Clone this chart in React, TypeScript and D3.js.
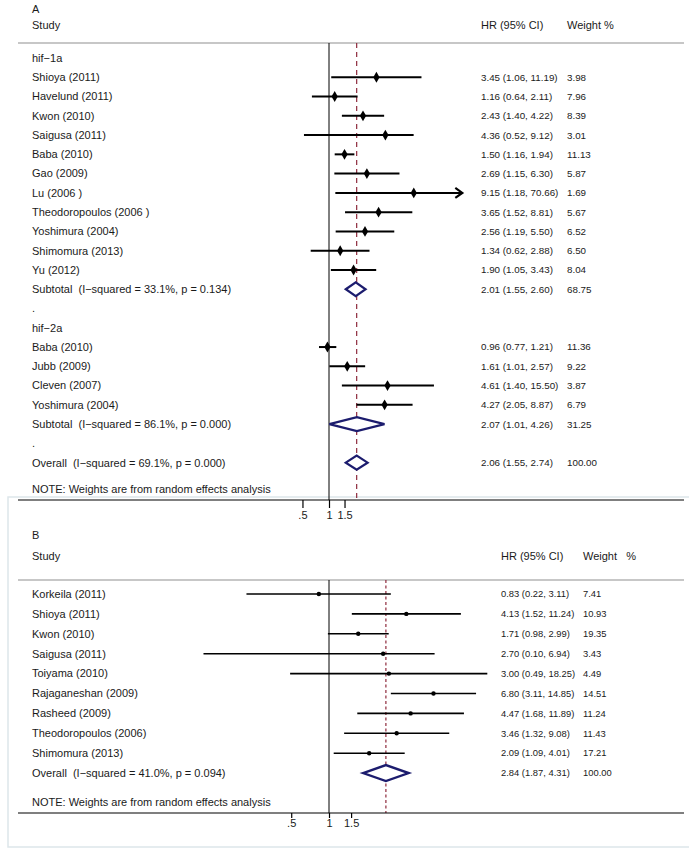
import React, { useEffect, useRef } from "react";
import * as d3 from "d3";

// ---- panel A data (hif-1a / hif-2a) ----
const hif1aStudies = ["Shioya (2011)", "Havelund (2011)", "Kwon (2010)", "Saigusa (2011)", "Baba (2010)", "Gao (2009)", "Lu (2006 )", "Theodoropoulos (2006 )", "Yoshimura (2004)", "Shimomura (2013)", "Yu (2012)"];
const hif1aHR = [3.45, 1.16, 2.43, 4.36, 1.5, 2.69, 9.15, 3.65, 2.56, 1.34, 1.9];
const hif1aLo = [1.06, 0.64, 1.4, 0.52, 1.16, 1.15, 1.18, 1.52, 1.19, 0.62, 1.05];
const hif1aHi = [11.19, 2.11, 4.22, 9.12, 1.94, 6.3, 70.66, 8.81, 5.5, 2.88, 3.43];
const hif1aWeight = [3.98, 7.96, 8.39, 3.01, 11.13, 5.87, 1.69, 5.67, 6.52, 6.5, 8.04];

const hif2aStudies = ["Baba (2010)", "Jubb (2009)", "Cleven (2007)", "Yoshimura (2004)"];
const hif2aHR = [0.96, 1.61, 4.61, 4.27];
const hif2aLo = [0.77, 1.01, 1.4, 2.05];
const hif2aHi = [1.21, 2.57, 15.5, 8.87];
const hif2aWeight = [11.36, 9.22, 3.87, 6.79];

const pooledLabelsA = ["Subtotal  (I\u2212squared = 33.1%, p = 0.134)", "Subtotal  (I\u2212squared = 86.1%, p = 0.000)", "Overall  (I\u2212squared = 69.1%, p = 0.000)"];
const pooledHRA = [2.01, 2.07, 2.06];
const pooledLoA = [1.55, 1.01, 1.55];
const pooledHiA = [2.6, 4.26, 2.74];
const pooledWeightA = [68.75, 31.25, 100.0];

// ---- panel B data ----
const studiesB = ["Korkeila (2011)", "Shioya (2011)", "Kwon (2010)", "Saigusa (2011)", "Toiyama (2010)", "Rajaganeshan (2009)", "Rasheed (2009)", "Theodoropoulos (2006)", "Shimomura (2013)"];
const hrB = [0.83, 4.13, 1.71, 2.7, 3.0, 6.8, 4.47, 3.46, 2.09];
const loB = [0.22, 1.52, 0.98, 0.1, 0.49, 3.11, 1.68, 1.32, 1.09];
const hiB = [3.11, 11.24, 2.99, 6.94, 18.25, 14.85, 11.89, 9.08, 4.01];
const weightB = [7.41, 10.93, 19.35, 3.43, 4.49, 14.51, 11.24, 11.43, 17.21];
const overallB = { label: "Overall  (I\u2212squared = 41.0%, p = 0.094)", hr: 2.84, lo: 1.87, hi: 4.31, w: 100.0 };

const tickValues = [0.5, 1, 1.5];
const tickLabels = [".5", "1", "1.5"];
const noteText = "NOTE: Weights are from random effects analysis";

const FONT = "'Liberation Sans', Arial, sans-serif";
const f2 = d3.format(".2f");

type Row =
  | { kind: "text"; label: string }
  | { kind: "study"; label: string; hr: number; lo: number; hi: number; w: number }
  | { kind: "pooled"; label: string; hr: number; lo: number; hi: number; w: number };

const rowsA: Row[] = [
  { kind: "text", label: "hif\u22121a" },
  ...hif1aStudies.map((s, i) => ({ kind: "study" as const, label: s, hr: hif1aHR[i], lo: hif1aLo[i], hi: hif1aHi[i], w: hif1aWeight[i] })),
  { kind: "pooled", label: pooledLabelsA[0], hr: pooledHRA[0], lo: pooledLoA[0], hi: pooledHiA[0], w: pooledWeightA[0] },
  { kind: "text", label: "." },
  { kind: "text", label: "hif\u22122a" },
  ...hif2aStudies.map((s, i) => ({ kind: "study" as const, label: s, hr: hif2aHR[i], lo: hif2aLo[i], hi: hif2aHi[i], w: hif2aWeight[i] })),
  { kind: "pooled", label: pooledLabelsA[1], hr: pooledHRA[1], lo: pooledLoA[1], hi: pooledHiA[1], w: pooledWeightA[1] },
  { kind: "text", label: "." },
  { kind: "pooled", label: pooledLabelsA[2], hr: pooledHRA[2], lo: pooledLoA[2], hi: pooledHiA[2], w: pooledWeightA[2] },
];

const rowsB: Row[] = [
  ...studiesB.map((s, i) => ({ kind: "study" as const, label: s, hr: hrB[i], lo: loB[i], hi: hiB[i], w: weightB[i] })),
  { kind: "pooled", ...overallB },
];

interface PanelCfg {
  letter: string;
  letterY: number;
  headY: number;
  ruleY: number;
  rowTop: number;
  step: number;
  noteY: number;
  axisY: number;
  x: d3.ScaleLogarithmic<number, number>;
  hrX: number;
  wX: number;
  weightHead: string;
  numSize: number;
  lineW: number;
  heavy: boolean;
  diamondH: number;
  pooledLine: number;
  tickSize: number;
  tickPad: number;
}

function drawPanel(svg: d3.Selection<SVGSVGElement, unknown, null, undefined>, rows: Row[], c: PanelCfg) {
  const g = svg.append("g");
  const txt = (x: number, y: number, s: string, size = 11) =>
    g.append("text").attr("x", x).attr("y", y).attr("dy", "0.35em").text(s)
      .style("white-space", "pre").attr("font-family", FONT).attr("font-size", size).attr("fill", "#1a1a1a");

  txt(32, c.letterY, c.letter);
  txt(32, c.headY, "Study");
  txt(c.hrX, c.headY, "HR (95% CI)");
  txt(c.wX, c.headY, c.weightHead);

  g.append("line").attr("x1", 18).attr("x2", 684).attr("y1", c.ruleY).attr("y2", c.ruleY)
    .attr("stroke", "#b4b4b4").attr("stroke-width", 1.5);

  const y = (i: number) => c.rowTop + c.step * i;
  const [xMin, xMax] = c.x.domain();
  const overall = rows[rows.length - 1];
  const overallHR = overall.kind === "text" ? 1 : overall.hr;

  // null line and overall effect line
  g.append("line").attr("x1", c.x(1)).attr("x2", c.x(1)).attr("y1", c.ruleY).attr("y2", c.axisY)
    .attr("stroke", "#000").attr("stroke-width", 1);
  g.append("line").attr("x1", c.x(overallHR)).attr("x2", c.x(overallHR))
    .attr("y1", c.ruleY).attr("y2", c.axisY)
    .attr("stroke", "#8e2a3c").attr("stroke-width", 1.2).attr("stroke-dasharray", c.heavy ? "5,4" : "3,2.5");

  rows.forEach((r, i) => {
    const yy = y(i);
    txt(32, yy, r.label);
    if (r.kind === "text") return;
    txt(c.hrX, yy, `${f2(r.hr)} (${f2(r.lo)}, ${f2(r.hi)})`, c.numSize);
    txt(c.wX, yy, f2(r.w), c.numSize);
    if (r.kind === "study") {
      const clipped = r.hi > xMax;
      const x1 = c.x(Math.max(r.lo, xMin));
      const x2 = c.x(Math.min(r.hi, xMax));
      g.append("line").attr("x1", x1).attr("x2", x2).attr("y1", yy).attr("y2", yy)
        .attr("stroke", "#000").attr("stroke-width", c.lineW);
      if (clipped) {
        g.append("path").attr("d", `M${x2 - 7},${yy - 5}L${x2},${yy}L${x2 - 7},${yy + 5}`)
          .attr("fill", "none").attr("stroke", "#000").attr("stroke-width", 2.2);
      }
      if (c.heavy) {
        g.append("path").attr("d", d3.symbol().type(d3.symbolDiamond).size(34)()!)
          .attr("transform", `translate(${c.x(r.hr)},${yy})`).attr("fill", "#000");
      } else {
        g.append("circle").attr("cx", c.x(r.hr)).attr("cy", yy).attr("r", 2.2).attr("fill", "#000");
      }
    } else {
      const h = c.diamondH;
      const d = `M${c.x(r.lo)},${yy}L${c.x(r.hr)},${yy - h}L${c.x(r.hi)},${yy}L${c.x(r.hr)},${yy + h}Z`;
      g.append("path").attr("d", d).attr("fill", "#fff").attr("stroke", "#1c1c6e")
        .attr("stroke-width", c.pooledLine).attr("stroke-linejoin", "miter");
    }
  });

  txt(32, c.noteY, noteText);

  // bottom axis
  g.append("line").attr("x1", 18).attr("x2", 684).attr("y1", c.axisY).attr("y2", c.axisY)
    .attr("stroke", "#000").attr("stroke-width", 1.2);
  const axis = d3.axisBottom(c.x).tickValues(tickValues).tickSize(c.tickSize).tickPadding(c.tickPad)
    .tickFormat((_d, i) => tickLabels[i]);
  const ag = g.append("g").attr("transform", `translate(0,${c.axisY})`).call(axis);
  ag.select(".domain").remove();
  ag.selectAll("line").attr("stroke-width", 1.2);
  ag.selectAll("text").attr("font-family", FONT).attr("font-size", 11).attr("fill", "#1a1a1a");
}

const App = () => {
  const ref = useRef<SVGSVGElement>(null);
  useEffect(() => {
    const svg = d3.select(ref.current!);
    svg.selectAll("*").remove();
    svg.append("rect").attr("width", 689).attr("height", 853).attr("fill", "#fff");

    // faint frame round panel B
    svg.append("rect").attr("x", 8).attr("y", 497).attr("width", 690).attr("height", 350)
      .attr("fill", "none").attr("stroke", "#dde6ea").attr("stroke-width", 1.5);

    // A: 38.3 px per log unit, centred on HR = 1
    const xA = d3.scaleLog().domain([1 / 32.5, 32.5]).range([329 - 133.3, 329 + 133.3]);
    drawPanel(svg, rowsA, {
      letter: "A", letterY: 9, headY: 25, ruleY: 43, rowTop: 58, step: 19.27,
      noteY: 489, axisY: 500, x: xA, hrX: 481, wX: 567, weightHead: "Weight %", numSize: 9.8,
      lineW: 2, heavy: true, diamondH: 7, pooledLine: 2.2, tickSize: 8, tickPad: 3,
    });

    // B: 54.5 px per log unit
    const xB = d3.scaleLog().domain([1 / 20, 20]).range([329 - 163.3, 329 + 163.3]);
    drawPanel(svg, rowsB, {
      letter: "B", letterY: 535, headY: 556, ruleY: 580, rowTop: 594, step: 19.9,
      noteY: 802, axisY: 813, x: xB, hrX: 501, wX: 583, weightHead: "Weight   %", numSize: 9.4,
      lineW: 1.6, heavy: false, diamondH: 8, pooledLine: 2.4, tickSize: 5, tickPad: 1,
    });
  }, []);

  return (
    <div>
      <svg ref={ref} width={689} height={853} style={{ position: "absolute", left: 0, top: 0 }}></svg>
    </div>
  );
};

export default App;
